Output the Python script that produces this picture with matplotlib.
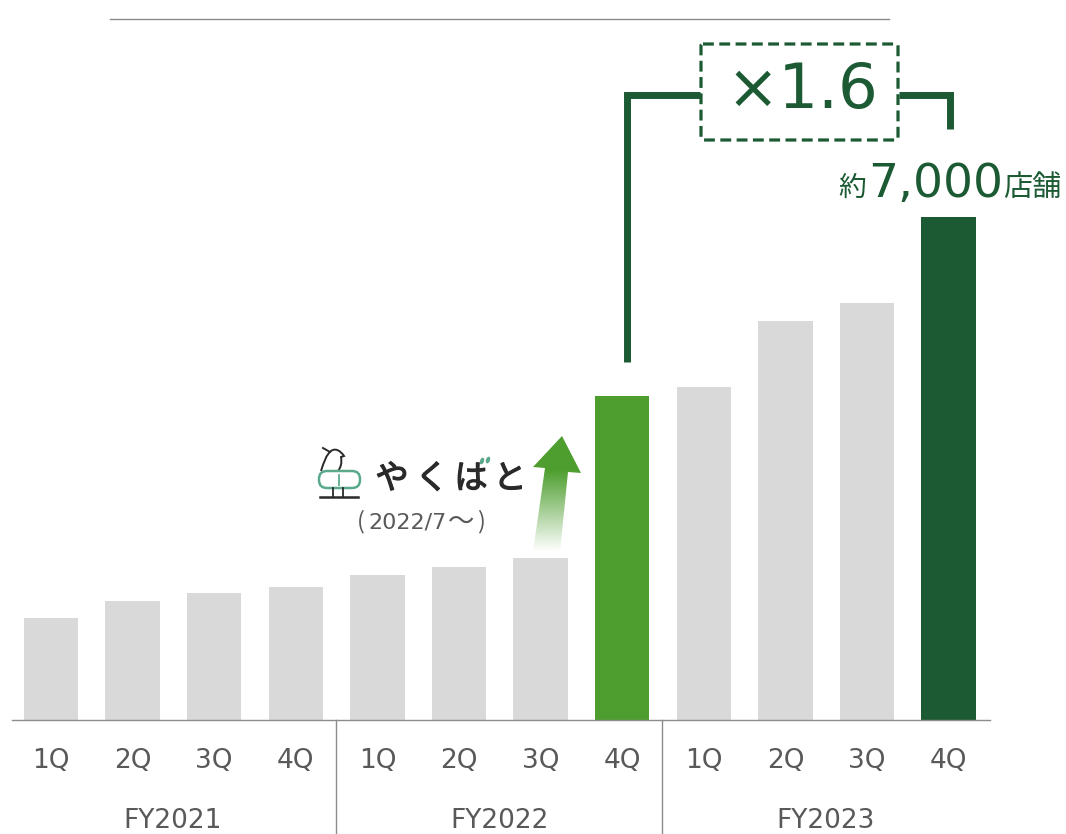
"""Store count by quarter, FY2021-FY2023, with the x1.6 growth callout."""

import matplotlib

matplotlib.use("Agg")  # headless

import matplotlib.patheffects as pe
import matplotlib.pyplot as plt
import numpy as np
from matplotlib.patches import Ellipse, FancyBboxPatch, PathPatch, Polygon
from matplotlib.path import Path

WIDTH, HEIGHT = 1066, 834
BASELINE_PX = 720
UNITS_PER_PX = 7000 / 503

GREY = "#d9d9d9"
LIGHT_GREEN = "#4d9e2e"
DARK_GREEN = "#1b5a33"
TEXT = "#595959"
RULE = "#8c8c8c"
INK = "#2a2a2a"
LOGO_GREEN = "#5aa98a"

SANS = ["DejaVu Sans", "Noto Sans CJK JP"]
JP = ["Noto Sans CJK JP", "DejaVu Sans"]

quarters = ["1Q", "2Q", "3Q", "4Q"] * 3
fiscal_years = ["FY2021", "FY2022", "FY2023"]
stores = [1420, 1655, 1770, 1850, 2020, 2130, 2255, 4510, 4635, 5555, 5805, 7000]
bar_colors = [GREY] * 7 + [LIGHT_GREEN] + [GREY] * 3 + [DARK_GREEN]

fig = plt.figure(figsize=(WIDTH / 100, HEIGHT / 100), dpi=100)

# bars live on their own axes, scaled so the slots line up with the labels below
ax = fig.add_axes([0, 0, 1, 1])
ax.bar(range(len(stores)), stores, width=0.667, color=bar_colors, zorder=2)
ax.set_xlim(-51 / 81.6, (WIDTH - 51) / 81.6)
ax.set_ylim(-(HEIGHT - BASELINE_PX) * UNITS_PER_PX, BASELINE_PX * UNITS_PER_PX)
ax.axis("off")

# annotations are laid out in pixels on a transparent overlay
ov = fig.add_axes([0, 0, 1, 1])
ov.set_xlim(0, WIDTH)
ov.set_ylim(HEIGHT, 0)
ov.axis("off")
ov.patch.set_alpha(0)

ov.plot([110, 889], [19, 19], color=RULE, lw=1)
ov.plot([12, 990], [720, 720], color=RULE, lw=1)
for x in (336, 662):
    ov.plot([x, x], [720, 834], color=RULE, lw=1)

for i, label in enumerate(quarters):
    ov.text(51 + 81.6 * i, 768, label, ha="center", va="baseline",
            fontsize=19, color=TEXT, family=SANS)
for x, label in zip((173, 500, 826), fiscal_years):
    ov.text(x, 828, label, ha="center", va="baseline",
            fontsize=19, color=TEXT, family=SANS)

# growth bracket and dashed multiplier box
ov.plot([627, 627, 700], [362, 95, 95], color=DARK_GREEN, lw=5,
        solid_joinstyle="miter", solid_capstyle="butt")
ov.plot([899, 950, 950], [95, 95, 129], color=DARK_GREEN, lw=5,
        solid_joinstyle="miter", solid_capstyle="butt")
ov.add_patch(FancyBboxPatch((701, 44), 197, 96, boxstyle="round,pad=0,rounding_size=2",
                            fc="white", ec=DARK_GREEN, lw=2.3, ls=(0, (3.4, 1.7)), zorder=3))
ov.text(802, 108, "×1.6", ha="center", va="baseline", fontsize=45,
        color=DARK_GREEN, family=SANS, zorder=4)

# total label above the last bar
ov.text(852, 196, "約", ha="center", va="baseline", fontsize=20, color=DARK_GREEN, family=JP)
ov.text(868, 197, f"{stores[-1]:,}", ha="left", va="baseline", fontsize=34,
        color=DARK_GREEN, family=SANS)
ov.text(1032, 196, "店舗", ha="center", va="baseline", fontsize=21, color=DARK_GREEN, family=JP)

# arrow fading out towards the 3Q bar
arrow = Polygon([(562, 436), (581, 473), (568, 472), (560, 552), (533, 552),
                 (545, 468), (533, 467)], closed=True, fc="none", ec="none")
ov.add_patch(arrow)
fade = np.ones((100, 2, 4))
fade[..., :3] = matplotlib.colors.to_rgb(LIGHT_GREEN)
fade[..., 3] = np.clip((552 - np.linspace(430, 555, 100))[:, None] / 82, 0, 1)
image = ov.imshow(fade, extent=(525, 590, 555, 430), aspect="auto", zorder=3)
image.set_clip_path(arrow)
ov.set_xlim(0, WIDTH)
ov.set_ylim(HEIGHT, 0)

# service logo: bird on a pill, then the name
bird = Path(
    [(321, 471), (324, 462), (326, 455), (331, 451),
     (335, 448), (340, 450), (344, 456), (341, 457),
     (342, 463), (341, 467), (338, 471)],
    [Path.MOVETO, Path.CURVE4, Path.CURVE4, Path.CURVE4,
     Path.CURVE4, Path.CURVE4, Path.CURVE4, Path.LINETO,
     Path.CURVE4, Path.CURVE4, Path.CURVE4],
)
ov.add_patch(PathPatch(bird, fc="none", ec=INK, lw=1.4))
ov.plot([323, 330], [448, 452], color=INK, lw=1.4)
ov.add_patch(FancyBboxPatch((319, 471), 41, 17, boxstyle="round,pad=0,rounding_size=8",
                            fc="none", ec=LOGO_GREEN, lw=1.8))
ov.plot([339, 339], [475, 485], color=LOGO_GREEN, lw=1.3)
ov.plot([333, 333], [488, 497], color=INK, lw=1.3)
ov.plot([343, 343], [488, 497], color=INK, lw=1.3)
ov.plot([320, 358], [497, 497], color=INK, lw=1.8)
for x, char in zip((392, 432, 471, 510), ("や", "く", "は", "と")):
    ov.text(x, 479, char, ha="center", va="center", fontsize=24, color=INK, family=JP,
            path_effects=[pe.withStroke(linewidth=0.9, foreground=INK)])
ov.add_patch(Ellipse((482, 461), 4, 7, angle=20, fc=LOGO_GREEN, ec="none", zorder=4))
ov.add_patch(Ellipse((488, 460), 4, 7, angle=20, fc=LOGO_GREEN, ec="none", zorder=4))

# start date, set piece by piece to keep the wide bracket spacing
ov.text(361, 522, "(", ha="center", va="center", fontsize=17, color=TEXT, family=JP)
ov.text(407, 522, "2022/7", ha="center", va="center", fontsize=16, color=TEXT, family=SANS)
ov.text(461, 522, "～", ha="center", va="center", fontsize=19, color=TEXT, family=JP)
ov.text(481, 522, ")", ha="center", va="center", fontsize=17, color=TEXT, family=JP)

fig.savefig("out.png", dpi=100)
plt.close(fig)
